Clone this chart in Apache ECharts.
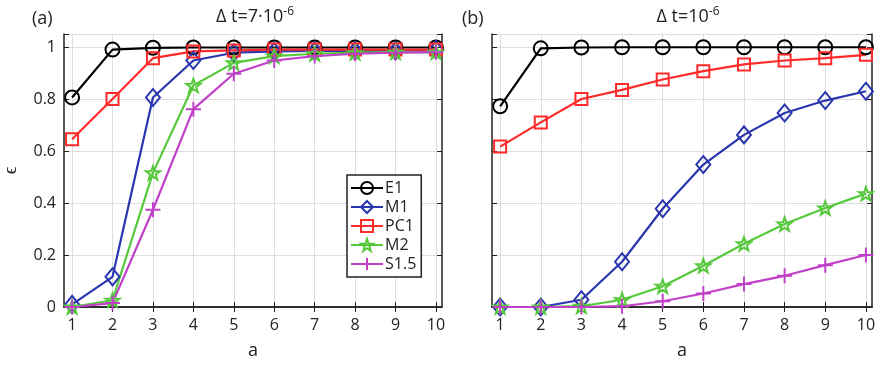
<!DOCTYPE html>
<html><head><meta charset="utf-8">
<script src="https://cdn.jsdelivr.net/npm/echarts@6/dist/echarts.min.js"></script>
<style>html,body{margin:0;padding:0;background:#fff}#c{width:880px;height:365px}</style>
</head><body><div id="c"></div>
<script>
const aVals = [1,2,3,4,5,6,7,8,9,10];
const seriesNames = ['E1','M1','PC1','M2','S1.5'];
// panel (a): Δt = 7·10^-6
const a_E1  = [0.806,0.99,0.997,0.998,0.998,0.998,0.998,0.998,0.998,0.998];
const a_M1  = [0.01,0.116,0.806,0.948,0.978,0.983,0.985,0.985,0.985,0.99];
const a_PC1 = [0.645,0.80,0.957,0.983,0.987,0.99,0.99,0.99,0.99,0.99];
const a_M2  = [0.0,0.026,0.516,0.852,0.939,0.965,0.974,0.978,0.98,0.98];
const a_S15 = [0.0,0.015,0.374,0.761,0.897,0.948,0.965,0.974,0.978,0.98];
// panel (b): Δt = 10^-6
const b_E1  = [0.772,0.995,0.998,0.999,0.999,0.999,0.999,0.999,0.999,0.999];
const b_M1  = [0.0,0.0,0.028,0.174,0.378,0.548,0.662,0.746,0.794,0.83];
const b_PC1 = [0.617,0.71,0.80,0.835,0.875,0.907,0.933,0.948,0.957,0.97];
const b_M2  = [0.0,0.0,0.003,0.028,0.08,0.159,0.243,0.319,0.381,0.436];
const b_S15 = [0.0,0.0,0.0,0.003,0.022,0.052,0.088,0.12,0.161,0.2];
const yTicks = [0,0.2,0.4,0.6,0.8,1];

const colors = {E1:'#000000', M1:'#2a35b0', PC1:'#ff2a2a', M2:'#55c83c', 'S1.5':'#c040c8'};
const STAR = 'path://M0,-10 L2.35,-3.24 L9.51,-3.09 L3.8,1.24 L5.88,8.09 L0,4 L-5.88,8.09 L-3.8,1.24 L-9.51,-3.09 L-2.35,-3.24 Z';
const PLUS = 'path://M0,-10 L0,10 M-10,0 L10,0';
const symbols = {E1:['circle',14], M1:['diamond',[14,17]], PC1:['rect',12], M2:[STAR,14], 'S1.5':[PLUS,15]};

const FONT = 'Open Sans';
const grids = [
  {left:61, top:34, width:381, height:274},
  {left:492, top:34, width:380, height:274}
];
const xMin = 0.8, xMax = 10.15, yMin = 0, yMax = 1.05;

const xAxes = [], yAxes = [];
const lineAxis = {lineStyle:{color:'#222', width:1.5}};
grids.forEach((g,i)=>{
  xAxes.push({type:'value', gridIndex:i, min:xMin, max:xMax, position:'bottom',
    axisLine:lineAxis, axisTick:{inside:true, length:5, customValues:aVals, lineStyle:{color:'#222'}},
    axisLabel:{customValues:aVals, fontFamily:FONT, fontSize:16, color:'#222', margin:10},
    splitLine:{show:true, lineStyle:{color:'#dddddd', width:1}},
    name:'a', nameLocation:'middle', nameGap:35, nameTextStyle:{fontFamily:FONT, fontSize:18, color:'#222'}});
  xAxes.push({type:'value', gridIndex:i, min:xMin, max:xMax, position:'top',
    axisLine:lineAxis, axisTick:{inside:true, length:5, customValues:aVals, lineStyle:{color:'#222'}},
    axisLabel:{show:false}, splitLine:{show:false}});
  yAxes.push({type:'value', gridIndex:i, min:yMin, max:yMax, interval:0.2, position:'left',
    axisLine:lineAxis, axisTick:{inside:true, length:5, lineStyle:{color:'#222'}},
    axisLabel:{show: i===0, fontFamily:FONT, fontSize:16, color:'#222', margin:8,
      formatter: v => yTicks.some(t=>Math.abs(t-v)<1e-9) ? String(+v.toFixed(1)) : ''},
    splitLine:{show:true, lineStyle:{color:'#dddddd', width:1}},
    name: i===0 ? 'ϵ' : '', nameLocation:'middle', nameGap:44, nameRotate:90,
    nameTextStyle:{fontFamily:FONT, fontSize:19, color:'#222'}});
  yAxes.push({type:'value', gridIndex:i, min:yMin, max:yMax, interval:0.2, position:'right',
    axisLine:lineAxis, axisTick:{inside:true, length:5, lineStyle:{color:'#222'}},
    axisLabel:{show:false}, splitLine:{show:false}});
});

function mk(name, vals, panel){
  const c = colors[name];
  const s = symbols[name];
  return {type:'line', name, xAxisIndex:panel*2, yAxisIndex:panel*2,
    data: aVals.map((x,k)=>[x, vals[k]]),
    symbol:s[0], symbolSize:s[1], symbolKeepAspect:true, showAllSymbol:true,
    lineStyle:{color:c, width:2.2},
    itemStyle:{color:'rgba(255,255,255,0)', borderColor:c, borderWidth:2},
    emphasis:{disabled:true}, animation:false, clip:false};
}
const series = [
  mk('E1',a_E1,0), mk('M1',a_M1,0), mk('PC1',a_PC1,0), mk('M2',a_M2,0), mk('S1.5',a_S15,0),
  mk('E1',b_E1,1), mk('M1',b_M1,1), mk('PC1',b_PC1,1), mk('M2',b_M2,1), mk('S1.5',b_S15,1)
];

const titleRich = {t:{fontFamily:FONT, fontSize:18, fontWeight:'normal', color:'#222'},
  s:{fontFamily:FONT, fontSize:12, fontWeight:'normal', color:'#222', padding:[0,0,10,0]}};
const chart = echarts.init(document.getElementById('c'), null, {renderer:'canvas'});
chart.setOption({
  animation:false,
  backgroundColor:'#fff',
  title:[
    {text:'{t|Δ t=7·10}{s|-6}', left:250, top:1, textAlign:'center', textStyle:{fontWeight:'normal', rich:titleRich}},
    {text:'{t|Δ t=10}{s|-6}', left:683, top:1, textAlign:'center', textStyle:{fontWeight:'normal', rich:titleRich}},
    {text:'(a)', left:27, top:5, textStyle:{fontFamily:FONT, fontSize:18, fontWeight:'normal', color:'#222'}},
    {text:'(b)', left:457, top:5, textStyle:{fontFamily:FONT, fontSize:18, fontWeight:'normal', color:'#222'}}
  ],
  grid:grids,
  xAxis:xAxes, yAxis:yAxes,
  legend:{data:seriesNames, orient:'vertical', left:347, top:175, itemWidth:32, itemHeight:15, itemGap:3,
    padding:[5,5,5,3], borderColor:'#222', borderWidth:1.5, backgroundColor:'#fff',
    textStyle:{fontFamily:FONT, fontSize:16, color:'#222', padding:[0,0,0,-3]}, selectedMode:false},
  series
});
</script></body></html>
